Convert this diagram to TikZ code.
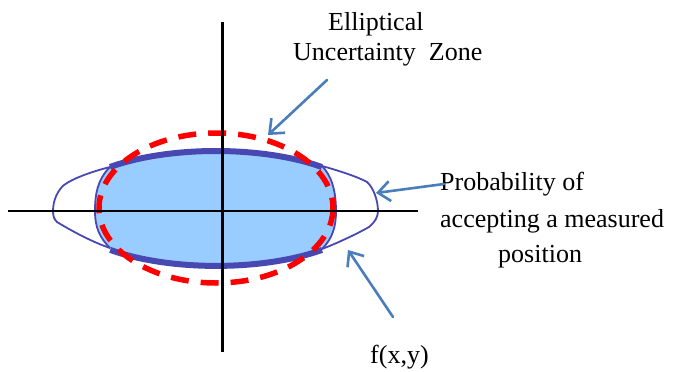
\documentclass[tikz,border=0pt]{standalone}
\usepackage{fontspec}
\setmainfont{Liberation Serif}
\usetikzlibrary{arrows.meta}
\definecolor{fillblue}{RGB}{153,204,255}
\definecolor{edgeblue}{RGB}{72,72,178}
\definecolor{arrowblue}{RGB}{74,126,187}
\begin{document}
\begin{tikzpicture}[x=1pt,y=-1pt,
  lbl/.style={font=\fontsize{26}{30}\selectfont, inner sep=0pt, anchor=base west},
  pointer/.style={arrowblue, line width=2.6pt, line cap=round, -{Straight Barb[length=12pt,width=20pt,line width=2.6pt]}},
  thinedge/.style={edgeblue, line width=1.8pt},
  thickedge/.style={edgeblue, line width=6pt},
  axis/.style={black, line width=2.2pt}]
\useasboundingbox (0,0) rectangle (683,372);
% blue zone
\fill[fillblue] (110,167) arc[start angle=226.2, end angle=313.8, x radius=153, y radius=57.5]
  .. controls (332,176) and (336,192) .. (336,211)
  .. controls (336,226) and (333,238) .. (322,249)
  -- (322,249.9) arc[start angle=46.2, end angle=133.8, x radius=153, y radius=57.5]
  .. controls (100,238) and (95,228) .. (95,211)
  .. controls (95,195) and (97,180) .. (110,167) -- cycle;
% inner edges
\draw[thinedge] (322,166) .. controls (332,176) and (336,192) .. (336,211)
  .. controls (336,226) and (333,238) .. (322,249);
\draw[thinedge] (110,248) .. controls (100,238) and (95,228) .. (95,211)
  .. controls (95,195) and (97,180) .. (110,167);
% probability lobes
\draw[thinedge] (110,167) .. controls (90,172) and (72,179) .. (64,185)
  .. controls (58,190) and (53,200) .. (53,211)
  .. controls (53,216) and (54,219) .. (57,222)
  .. controls (75,233) and (95,243) .. (110,248);
\draw[thinedge] (322,166) .. controls (340,171) and (358,177) .. (367,182)
  .. controls (373,187) and (378,200) .. (378,211)
  .. controls (378,217) and (375,222) .. (369,227)
  .. controls (355,235) and (335,244) .. (322,249);
% thick arcs
\draw[thickedge] (110,167) arc[start angle=226.2, end angle=313.8, x radius=153, y radius=57.5];
\draw[thickedge] (322,249.9) arc[start angle=46.2, end angle=133.8, x radius=153, y radius=57.5];
% red dashed ellipse
\draw[red, line width=5.5pt, dash pattern=on 18pt off 12pt] (216,208) ellipse [x radius=117, y radius=75];
% axes
\coordinate (xl) at (8,211); \coordinate (xr) at (418,211);
\coordinate (yt) at (222.5,22); \coordinate (yb) at (222.5,352);
\draw[axis] (xl) -- (xr);
\draw[axis] (yt) -- (yb);
% labels
\node[lbl] (l1) at (328,30) {Elliptical};
\node[lbl] (l2) at (293,60) {Uncertainty\ \ Zone};
\node[lbl] (p1) at (440,190) {Probability of};
\node[lbl] (p2) at (440,227) {accepting a measured};
\node[lbl] (p3) at (498,262) {position};
\node[lbl] (f1) at (370,363) {f(x,y)};
% arrows
\coordinate (a1s) at (327,80); \coordinate (a1e) at (268,135);
\coordinate (a2s) at (444,184); \coordinate (a2e) at (376,193);
\coordinate (a3s) at (393,317); \coordinate (a3e) at (348,250);
\draw[pointer] (a1s) -- (a1e);
\draw[pointer] (a2s) -- (a2e);
\draw[pointer] (a3s) -- (a3e);
\end{tikzpicture}
\end{document}
